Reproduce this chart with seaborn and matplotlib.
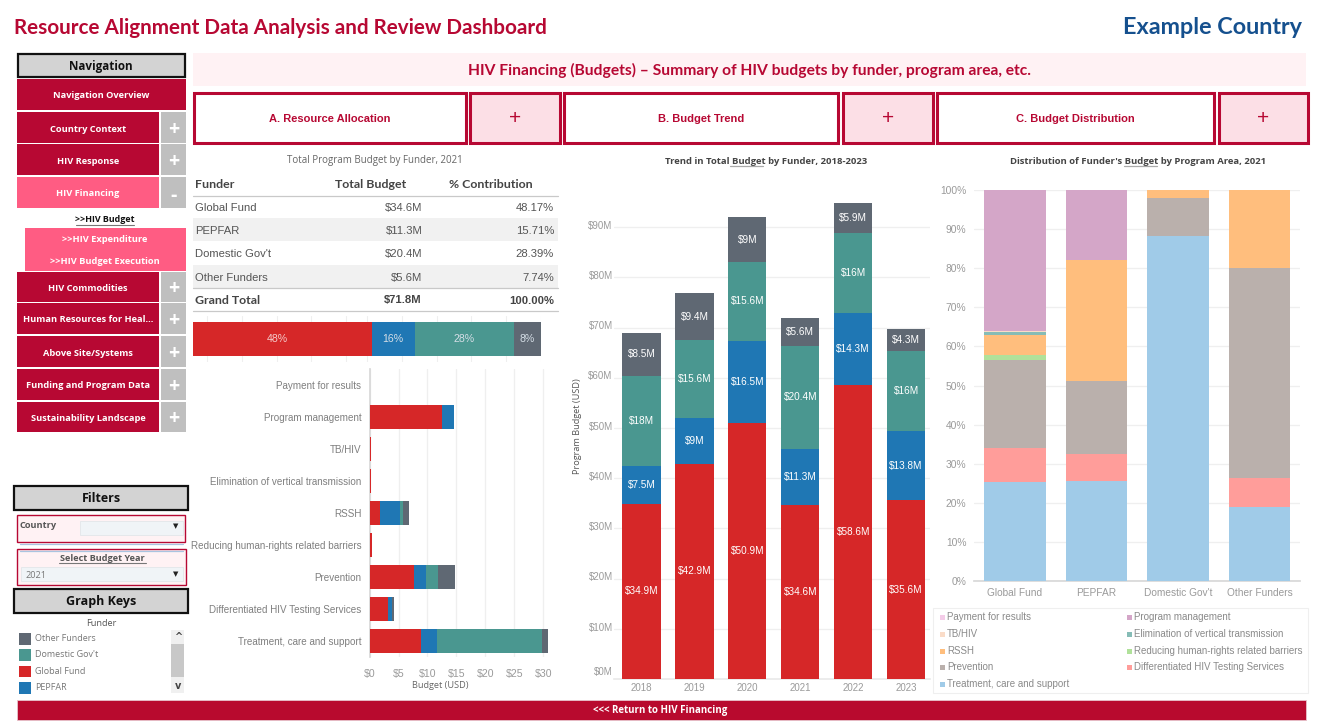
import numpy as np
import pandas as pd
import matplotlib
matplotlib.use("Agg")
import matplotlib.pyplot as plt
from matplotlib.patches import Rectangle
from matplotlib.transforms import ScaledTranslation
import seaborn as sns

# ---------- data ----------
funders = ["Global Fund", "PEPFAR", "Domestic Gov't", "Other Funders"]
years = ["2018", "2019", "2020", "2021", "2022", "2023"]
trend_global = [34.9, 42.9, 50.9, 34.6, 58.6, 35.6]
trend_pepfar = [7.5, 9.0, 16.5, 11.3, 14.3, 13.8]
trend_domestic = [18.0, 15.6, 15.6, 20.4, 16.0, 16.0]
trend_other = [8.5, 9.4, 9.0, 5.6, 5.9, 4.3]
trend_labels = [
    ["$34.9M", "$42.9M", "$50.9M", "$34.6M", "$58.6M", "$35.6M"],
    ["$7.5M", "$9M", "$16.5M", "$11.3M", "$14.3M", "$13.8M"],
    ["$18M", "$15.6M", "$15.6M", "$20.4M", "$16M", "$16M"],
    ["$8.5M", "$9.4M", "$9M", "$5.6M", "$5.9M", "$4.3M"],
]
table_budget = ["$34.6M", "$11.3M", "$20.4M", "$5.6M"]
table_pct = ["48.17%", "15.71%", "28.39%", "7.74%"]
share_values = [51.3, 12.4, 28.4, 7.9]
share_labels = ["48%", "16%", "28%", "8%"]
share_contribution = 48.17
share_grid = [4, 14, 24, 34, 44, 50, 60, 70, 80, 90, 100]

areas = ["Payment for results", "Program management", "TB/HIV",
         "Elimination of vertical transmission", "RSSH",
         "Reducing human-rights related barriers", "Prevention",
         "Differentiated HIV Testing Services", "Treatment, care and support"]
area_global = [0, 12.5, 0.2, 0.2, 1.8, 0.4, 7.65, 3.1, 8.9]
area_pepfar = [0, 2.1, 0, 0, 3.45, 0, 2.1, 0.8, 2.8]
area_domestic = [0, 0, 0, 0, 0.5, 0, 2.05, 0, 18.1]
area_other = [0, 0, 0, 0, 1.05, 0, 2.95, 0.4, 1.0]

dist_treatment = [25.3, 25.5, 88.2, 18.9]
dist_hts = [8.8, 7.1, 0, 7.4]
dist_prevention = [22.4, 18.5, 9.8, 53.7]
dist_reducing = [1.2, 0, 0, 0]
dist_rssh = [5.2, 31.0, 2.0, 20.0]
dist_elimination = [0.7, 0, 0, 0]
dist_tb = [0.3, 0, 0, 0]
dist_pm = [36.1, 17.9, 0, 0]
dist_payment = [0, 0, 0, 0]

# ---------- colours ----------
CRIMSON = "#B70833"
PINK = "#FF5C83"
GREY_BTN = "#BFBFBF"
HEAD_GREY = "#D3D3D3"
BLUSH = "#FFF2F4"
C_GF, C_PE, C_DO, C_OT = "#D62728", "#1F77B4", "#4A9790", "#5F6873"
TICK = "#9A9A9A"
LABEL = "#7F7F7F"
GRID = "#EFEFEF"
dist_colors = {"Treatment": "#A0CBE8", "HTS": "#FF9D9A", "Prevention": "#BAB0AC",
               "Reducing": "#B0E19A", "RSSH": "#FFBE7D", "Elimination": "#86BCB6",
               "TB": "#FADCC8", "PM": "#D4A6C8", "Payment": "#F4CCE8"}

sns.set_theme(style="white")
plt.rcParams["font.family"] = ["Liberation Sans", "DejaVu Sans"]
HEAD = "Open Sans"
BANNER = "Lato"

W, H = 1325, 724
fig = plt.figure(figsize=(W / 100, H / 100), dpi=100, facecolor="white")
bg = fig.add_axes([0, 0, 1, 1], zorder=0)
bg.set_xlim(0, W)
bg.set_ylim(H, 0)
bg.axis("off")


def axes_px(x0, y0, x1, y1, **kw):
    return fig.add_axes([x0 / W, 1 - y1 / H, (x1 - x0) / W, (y1 - y0) / H], zorder=2, **kw)


def rect(x0, y0, x1, y1, fc, ec="none", lw=0, z=1):
    bg.add_patch(Rectangle((x0, y0), x1 - x0, y1 - y0, facecolor=fc, edgecolor=ec, linewidth=lw, zorder=z))


def txt(x, y, s, size=8, color="#444444", ha="center", va="center", weight="normal", family=None, **kw):
    if family == HEAD:
        y = y + 1
    return bg.text(x, y, s, fontsize=size, color=color, ha=ha, va=va, fontweight=weight,
                   family=family if family else plt.rcParams["font.family"], zorder=5, **kw)


# ---------- header ----------
txt(14, 28, "Resource Alignment Data Analysis and Review Dashboard", size=14.9, color=CRIMSON,
    ha="left", weight="bold", family=BANNER)
txt(1302, 27, "Example Country", size=16.8, color="#15508E", ha="right", weight="bold", family=BANNER)
rect(193, 53, 1306, 86, BLUSH)
txt(749, 70, "HIV Financing (Budgets) – Summary of HIV budgets by funder, program area, etc.",
    size=11.25, color=CRIMSON, weight="bold", family=BANNER)

for x0, x1, px0, px1, label in [(194, 466, 470, 560, "A. Resource Allocation"),
                                (564, 838, 843, 933, "B. Budget Trend"),
                                (937, 1214, 1219, 1308, "C. Budget Distribution")]:
    rect(x0, 93, x1, 143, "white", CRIMSON, 2.2)
    rect(px0, 93, px1, 143, "#FCDFE6", CRIMSON, 2.2)
    txt((x0 + x1) / 2, 118.5, label, size=8, color=CRIMSON, weight="bold")
    txt((px0 + px1) / 2, 118, "+", size=15, color=CRIMSON)

# ---------- navigation ----------
rect(18, 54, 185, 77, HEAD_GREY, "#111111", 1.6)
txt(101, 65.5, "Navigation", size=8.4, color="#111111", weight="bold", family=HEAD)
rect(17, 79, 186, 110, CRIMSON)
txt(101, 95, "Navigation Overview", size=6.7, color="white", weight="bold", family=HEAD)
nav_rows = [("Country Context", 112, 143, CRIMSON, "+"), ("HIV Response", 144, 175, CRIMSON, "+"),
            ("HIV Financing", 177, 208, PINK, "-"), ("HIV Commodities", 272, 302, CRIMSON, "+"),
            ("Human Resources for Heal...", 303, 334, CRIMSON, "+"), ("Above Site/Systems", 336, 367, CRIMSON, "+"),
            ("Funding and Program Data", 369, 400, CRIMSON, "+"), ("Sustainability Landscape", 402, 432, CRIMSON, "+")]
for name, y0, y1, col, sign in nav_rows:
    rect(17, y0, 159, y1, col)
    rect(161, y0, 186, y1, GREY_BTN)
    txt(88, (y0 + y1) / 2 + 0.5, name, size=6.7, color="white", weight="bold", family=HEAD)
    txt(173.5, (y0 + y1) / 2 + (1.5 if sign == "+" else 2.5), sign, size=14, color="white", weight="bold", family=HEAD)
txt(105, 219, ">>HIV Budget", size=6.4, color="#111111", weight="bold", family=HEAD)
bg.plot([76, 134], [224.5, 224.5], color="#777777", lw=0.8, zorder=5)
rect(25, 228, 186, 271, PINK)
txt(105, 239, ">>HIV Expenditure", size=6.7, color="white", weight="bold", family=HEAD)
txt(105, 260, ">>HIV Budget Execution", size=6.7, color="white", weight="bold", family=HEAD)

# ---------- filters ----------
rect(14, 485.5, 188, 510, HEAD_GREY, "#111111", 1.6)
txt(101, 497.5, "Filters", size=9, color="#111111", weight="bold", family=HEAD)
rect(16.7, 515, 185, 542, BLUSH, CRIMSON, 1)
bg.plot([20, 183], [543.5, 543.5], color="#A9C4E0", lw=0.9, zorder=2)
txt(20, 524, "Country", size=6.6, color="#555555", ha="left", weight="bold", family=HEAD)
rect(80, 521, 183, 535, "#F0F4F7", "#E2E6EA", 0.6)
txt(175.5, 526, "▼", size=5, color="#222222", family="DejaVu Sans")
rect(17, 549, 186, 585, BLUSH, CRIMSON, 1)
bg.plot([20, 183], [550.5, 550.5], color="#A9C4E0", lw=0.9, zorder=2)
txt(102, 557.5, "Select Budget Year", size=6.6, color="#555555", weight="bold", family=HEAD)
bg.plot([59, 146], [562.5, 562.5], color="#777777", lw=0.8, zorder=5)
rect(21, 567, 183, 581, "#F0F4F7", "#E2E6EA", 0.6)
txt(26, 574, "2021", size=6.6, color="#777777", ha="left", family=HEAD)
txt(175.5, 574.5, "▼", size=5, color="#222222", family="DejaVu Sans")

rect(14, 589, 188, 613, HEAD_GREY, "#111111", 1.6)
txt(101, 600.5, "Graph Keys", size=9, color="#111111", weight="bold", family=HEAD)
txt(101, 622.5, "Funder", size=6.6, color="#555555", family=HEAD)
for (name, col), y in zip([("Other Funders", C_OT), ("Domestic Gov't", C_DO), ("Global Fund", C_GF), ("PEPFAR", C_PE)],
                          [633, 649, 665.5, 682]):
    rect(19, y, 31, y + 11.5, col)
    txt(35, y + 4.5, name, size=6.5, color="#777777", ha="left", family=HEAD)
rect(171, 630, 184, 693, "#F0F0F0")
rect(171, 644, 184, 677, "#C8C8C8")
txt(178, 637, "^", size=7, color="#444444", weight="bold", family="DejaVu Sans")
txt(178, 686, "v", size=7, color="#444444", weight="bold", family="DejaVu Sans")

rect(17, 700, 1306, 720, "#B80A2E", "#E8C4CC", 0.6)
txt(660.5, 709.5, "<<< Return to HIV Financing", size=7, color="white", weight="bold", family=HEAD)

# ---------- table ----------
txt(375, 160, "Total Program Budget by Funder, 2021", size=7, color="#666666", family=HEAD)
rect(193, 218, 558, 241, "#F1F1F1")
rect(193, 265, 558, 288, "#F1F1F1")
txt(195, 185, "Funder", size=8.9, color="#444444", ha="left", family="Lato", weight="bold")
txt(371, 185, "Total Budget", size=8.9, color="#444444", family="Lato", weight="bold")
txt(491, 185, "% Contribution", size=8.9, color="#444444", family="Lato", weight="bold")
for y in (195.5, 288, 311):
    bg.plot([193, 558], [y, y], color="#C9C9C9", lw=0.9, zorder=2)
for name, b, p, y in zip(funders, table_budget, table_pct, [207.7, 230.7, 254, 277.7]):
    txt(195, y, name, size=8.1, color="#555555", ha="left")
    txt(422.5, y, b, size=8.1, color="#555555", ha="right")
    txt(554, y, p, size=8.1, color="#555555", ha="right")
txt(195, 300.5, "Grand Total", size=8.9, color="#444444", ha="left", family="Lato", weight="bold")
txt(422, 300.5, "$71.8M", size=8.1, color="#444444", ha="right", weight="bold")
txt(554, 300.5, "100.00%", size=8.1, color="#444444", ha="right", weight="bold")

# ---------- share bar ----------
ax_s = axes_px(193, 316, 541, 362)
ax_s.patch.set_alpha(0)
left = 0
for i, (v, c, lab) in enumerate(zip(share_values, [C_GF, C_PE, C_DO, C_OT], share_labels)):
    sns.barplot(x=[v], y=["all"], left=left, color=c, width=0.74, saturation=1, ax=ax_s, orient="h",
                linewidth=0, zorder=3)
    if i == 0:
        ax_s.text(share_contribution / 2, 0, lab, ha="center", va="center", color="#F4C9C9", fontsize=7.6, zorder=4)
    else:
        ax_s.bar_label(ax_s.containers[-1], labels=[lab], label_type="center", color="#D5DEE6", fontsize=7.6,
                       zorder=4)
    left += v
ax_s.set_xlim(0, 100)
ax_s.set_ylim(0.5, -0.5)
ax_s.set_xticks(share_grid)
ax_s.set_yticks([])
ax_s.set_xticklabels([])
ax_s.set_xlabel("")
ax_s.set_ylabel("")
ax_s.tick_params(length=0)
ax_s.grid(axis="x", color=GRID, lw=0.8, zorder=0)
ax_s.set_axisbelow(True)
sns.despine(ax=ax_s, left=True, top=True, right=True, bottom=True)

# ---------- program area by funder ----------
ax_a = axes_px(369.6, 369, 553, 657)
ax_a.patch.set_alpha(0)
left = np.zeros(len(areas))
for vals, c in zip([area_global, area_pepfar, area_domestic, area_other], [C_GF, C_PE, C_DO, C_OT]):
    sns.barplot(x=vals, y=areas, order=areas, left=left, color=c, width=0.78, saturation=1, ax=ax_a,
                orient="h", linewidth=0, zorder=3)
    left = left + np.array(vals)
ax_a.set_xlim(0, 31.7)
ax_a.set_ylim(8.5, -0.5)
ax_a.set_xticks([0, 5, 10, 15, 20, 25, 30])
ax_a.set_xticklabels(["$0", "$5", "$10", "$15", "$20", "$25", "$30"], color=TICK, fontsize=7.6)
ax_a.tick_params(axis="y", labelsize=7.15, labelcolor=LABEL, length=0, pad=6)
ax_a.tick_params(axis="x", length=0, pad=9)
ax_a.grid(axis="x", color=GRID, lw=0.9, zorder=0)
ax_a.set_axisbelow(True)
sns.despine(ax=ax_a, top=True, right=True, bottom=True)
ax_a.spines["left"].set_color("#D8D8D8")
ax_a.set_ylabel("")
ax_a.set_xlabel("Budget (USD)", fontsize=6.6, color="#666666", family=HEAD)
ax_a.xaxis.set_label_coords(0.384, -0.085)

# ---------- trend ----------
ax_b = axes_px(614, 185, 930, 679)
ax_b.patch.set_alpha(0)
bottom = np.zeros(len(years))
for vals, c, labs in zip([trend_global, trend_pepfar, trend_domestic, trend_other],
                         [C_GF, C_PE, C_DO, C_OT], trend_labels):
    sns.barplot(x=years, y=vals, bottom=bottom, color=c, width=0.72, saturation=1, ax=ax_b, linewidth=0, zorder=3)
    ax_b.bar_label(ax_b.containers[-1], labels=labs, label_type="center", color="white", fontsize=7.2, zorder=4)
    bottom = bottom + np.array(vals)
ax_b.set_xlim(-0.52, 5.45)
ax_b.set_ylim(0, (679 - 185) / 5.02)
ax_b.set_yticks(range(0, 100, 10))
ax_b.set_yticklabels([f"${v}M" for v in range(0, 100, 10)], color=TICK, fontsize=7)
ax_b.tick_params(axis="x", labelsize=7, labelcolor=TICK, length=0, pad=3)
ax_b.tick_params(axis="y", length=0, pad=1)
for i, lab in enumerate(ax_b.get_yticklabels()):
    lift = 8 if i == 0 else 2.3
    lab.set_transform(lab.get_transform() + ScaledTranslation(0, lift / 100, fig.dpi_scale_trans))
ax_b.grid(axis="y", color=GRID, lw=0.9, zorder=0)
ax_b.set_axisbelow(True)
sns.despine(ax=ax_b, left=True, top=True, right=True)
ax_b.spines["bottom"].set_color("#EAEAEA")
ax_b.set_ylabel("")
txt(577, 425, "Program Budget (USD)", size=6.6, color="#555555", rotation=90, family=HEAD)
txt(766, 160, "Trend in Total Budget by Funder, 2018-2023", size=6.8, color="#444444", weight="bold", family=HEAD)
bg.plot([730, 763], [166, 166], color="#AAAAAA", lw=0.9, zorder=5)

# ---------- distribution ----------
ax_c = axes_px(974, 190, 1300, 581)
ax_c.patch.set_alpha(0)
bottom = np.zeros(len(funders))
stack = [("Treatment", dist_treatment), ("HTS", dist_hts), ("Prevention", dist_prevention),
         ("Reducing", dist_reducing), ("RSSH", dist_rssh), ("Elimination", dist_elimination),
         ("TB", dist_tb), ("PM", dist_pm), ("Payment", dist_payment)]
for key, vals in stack:
    sns.barplot(x=funders, y=vals, bottom=bottom, color=dist_colors[key], width=0.76, saturation=1, ax=ax_c,
                linewidth=0, zorder=3)
    bottom = bottom + np.array(vals)
ax_c.set_xlim((974 - 1015) / 81.5, (1300 - 1015) / 81.5)
ax_c.set_ylim(0, 100)
ax_c.set_yticks(range(0, 101, 10))
ax_c.set_yticklabels([f"{v}%" for v in range(0, 101, 10)], color=TICK, fontsize=7.4)
ax_c.tick_params(axis="x", labelsize=7.3, labelcolor=TICK, length=0, pad=5)
ax_c.tick_params(axis="y", length=0, pad=5.5)
ax_c.grid(axis="y", color=GRID, lw=0.9, zorder=0)
ax_c.set_axisbelow(True)
sns.despine(ax=ax_c, left=True, top=True, right=True)
ax_c.spines["bottom"].set_color("#D8D8D8")
ax_c.set_ylabel("")
txt(1138, 160, "Distribution of Funder's Budget by Program Area, 2021", size=6.8, color="#444444",
    weight="bold", family=HEAD)
bg.plot([1124, 1157], [166, 166], color="#AAAAAA", lw=0.9, zorder=5)

rect(933, 608, 1308, 693, "white", "#EFEFEF", 0.8)
legend_entries = [("Payment for results", "Payment", 940, 617), ("Program management", "PM", 1127, 617),
                  ("TB/HIV", "TB", 940, 634), ("Elimination of vertical transmission", "Elimination", 1127, 634),
                  ("RSSH", "RSSH", 940, 651), ("Reducing human-rights related barriers", "Reducing", 1127, 651),
                  ("Prevention", "Prevention", 940, 667), ("Differentiated HIV Testing Services", "HTS", 1127, 667),
                  ("Treatment, care and support", "Treatment", 940, 684)]
for label, key, x, y in legend_entries:
    rect(x, y - 2.5, x + 5, y + 2.5, dist_colors[key], z=4)
    txt(x + 7, y, label, size=7.05, color="#8A8A8A", ha="left")

fig.savefig("out.png", dpi=100)
